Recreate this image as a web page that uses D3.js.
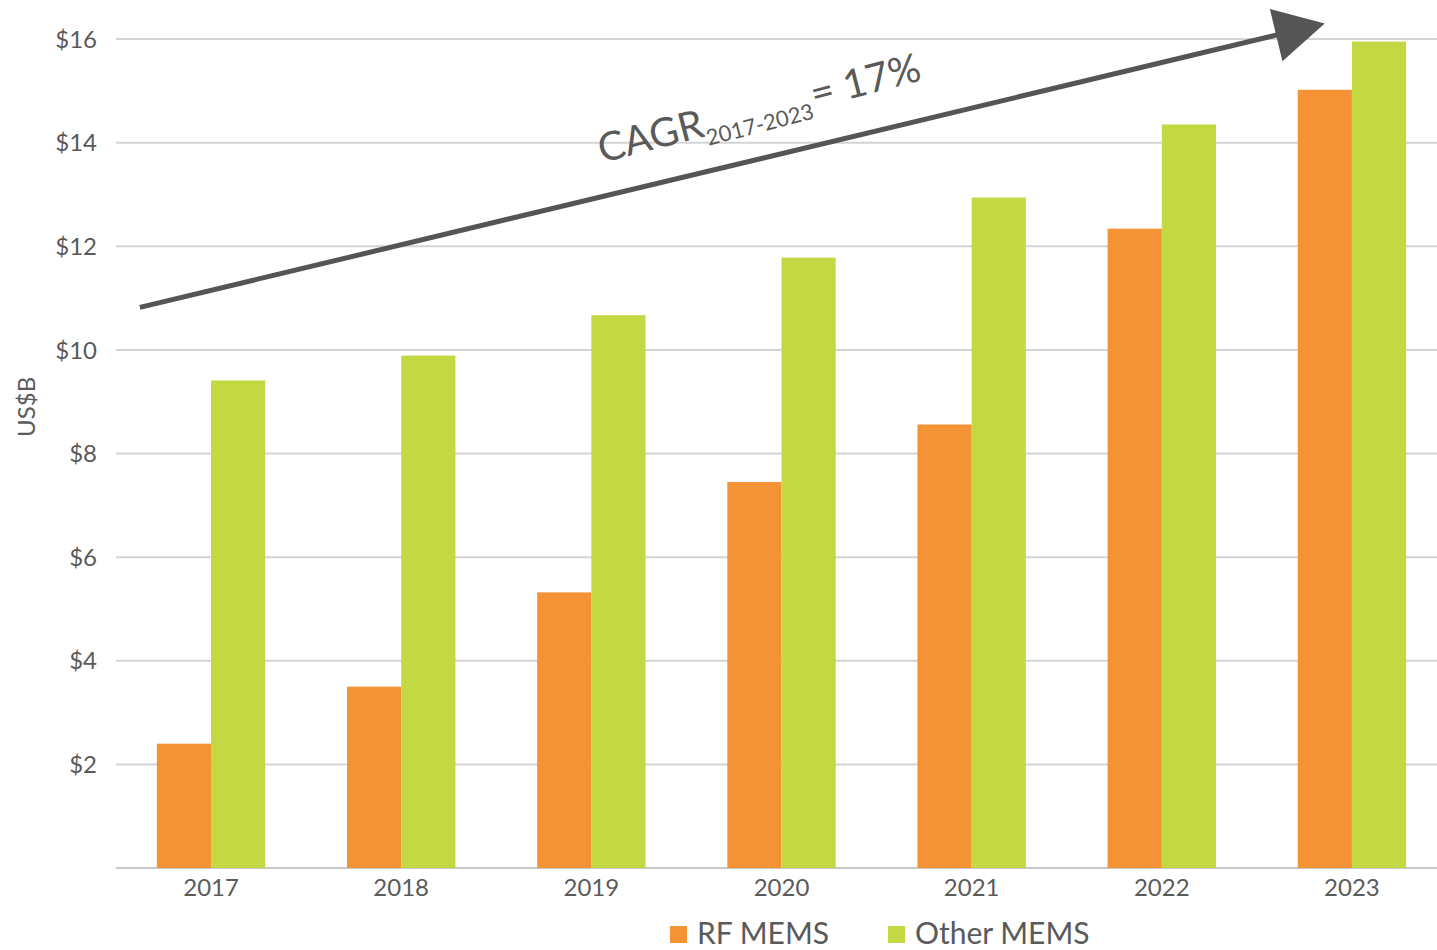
<!DOCTYPE html>
<html>
<head>
<meta charset="utf-8">
<script src="https://cdn.jsdelivr.net/npm/d3@7"></script>
<style>
  html, body { margin: 0; padding: 0; background: #fff; }
  svg { display: block; font-family: "Lato", "Open Sans", sans-serif; }
</style>
</head>
<body>
<svg id="chart" width="1437" height="950"></svg>
<script>
const years = ["2017", "2018", "2019", "2020", "2021", "2022", "2023"];
const rfMems = [2.4, 3.5, 5.32, 7.45, 8.56, 12.34, 15.02];
const otherMems = [9.41, 9.89, 10.67, 11.78, 12.94, 14.35, 15.95];
const seriesNames = ["RF MEMS", "Other MEMS"];
const seriesColors = ["#F39335", "#C3D843"];
const yTicks = [2, 4, 6, 8, 10, 12, 14, 16];
const yTickLabels = ["$2", "$4", "$6", "$8", "$10", "$12", "$14", "$16"];
const cagrLabel = "CAGR";
const cagrSub = "2017-2023";
const cagrValue = "= 17%";

const svg = d3.select("#chart");
const margin = { left: 116, right: 1447, top: 39, bottom: 868 };

const x0 = d3.scaleBand().domain(years).range([margin.left, margin.right])
  .paddingInner(0.43).paddingOuter(0.215);
const x1 = d3.scaleBand().domain(seriesNames).range([0, x0.bandwidth()]);
const y = d3.scaleLinear().domain([0, 16]).range([margin.bottom, margin.top]);

// gridlines
svg.append("g").selectAll("line").data(yTicks).join("line")
  .attr("x1", margin.left).attr("x2", margin.right)
  .attr("y1", d => y(d)).attr("y2", d => y(d))
  .attr("stroke", "#D4D4D4").attr("stroke-width", 2);

// baseline
svg.append("line")
  .attr("x1", margin.left).attr("x2", margin.right)
  .attr("y1", y(0)).attr("y2", y(0))
  .attr("stroke", "#C8C8C8").attr("stroke-width", 2);

// y tick labels
svg.append("g").selectAll("text").data(yTicks).join("text")
  .attr("x", 97).attr("y", d => y(d))
  .attr("dy", "0.36em")
  .attr("text-anchor", "end")
  .attr("font-size", 24)
  .attr("fill", "#5A5A5A")
  .text((d, i) => yTickLabels[i]);

// y axis title
svg.append("text")
  .attr("transform", `translate(35, ${y(8.9)}) rotate(-90)`)
  .attr("text-anchor", "middle")
  .attr("font-size", 24)
  .attr("fill", "#5A5A5A")
  .text("US$B");

// bars
const data = years.map((yr, i) => ({ year: yr, values: [rfMems[i], otherMems[i]] }));
const groups = svg.append("g").selectAll("g").data(data).join("g")
  .attr("transform", d => `translate(${x0(d.year)},0)`);
groups.selectAll("rect").data(d => d.values.map((v, j) => ({ name: seriesNames[j], v, j })))
  .join("rect")
  .attr("x", d => x1(d.name))
  .attr("width", x1.bandwidth())
  .attr("y", d => y(d.v))
  .attr("height", d => y(0) - y(d.v))
  .attr("fill", d => seriesColors[d.j]);

// x labels
svg.append("g").selectAll("text").data(years).join("text")
  .attr("x", d => x0(d) + x0.bandwidth() / 2)
  .attr("y", 896)
  .attr("text-anchor", "middle")
  .attr("font-size", 24)
  .attr("fill", "#5A5A5A")
  .text(d => d);

// arrow (in data coordinates)
const arrowStart = { x: x0("2017") - 17, v: 10.82 };
const arrowEnd = { x: x0("2023") + 27, v: 16.3 };
const ax1 = arrowStart.x, ay1 = y(arrowStart.v);
const ax2 = arrowEnd.x, ay2 = y(arrowEnd.v);
const ang = Math.atan2(ay2 - ay1, ax2 - ax1);
const headLen = 50, headHalf = 27;
const bx = ax2 - headLen * Math.cos(ang), by = ay2 - headLen * Math.sin(ang);
svg.append("line")
  .attr("x1", ax1).attr("y1", ay1)
  .attr("x2", bx + 4 * Math.cos(ang)).attr("y2", by + 4 * Math.sin(ang))
  .attr("stroke", "#555555").attr("stroke-width", 5);
svg.append("path")
  .attr("d", `M${ax2},${ay2} L${bx - headHalf * Math.sin(ang)},${by + headHalf * Math.cos(ang)} L${bx + headHalf * Math.sin(ang)},${by - headHalf * Math.cos(ang)} Z`)
  .attr("fill", "#555555");

// CAGR label
const t = svg.append("text")
  .attr("transform", `translate(602, 163) rotate(-14.5)`)
  .attr("fill", "#5A5A5A");
t.append("tspan").attr("font-size", 40).text(cagrLabel);
t.append("tspan").attr("font-size", 22).attr("dy", 10).text(cagrSub);
t.append("tspan").attr("font-size", 40).attr("dy", -10).attr("dx", 2).text(cagrValue);

// legend
const legendX = [670, 888];
const lg = svg.append("g").selectAll("g").data(seriesNames).join("g")
  .attr("transform", (d, i) => `translate(${legendX[i]}, 926)`);
lg.append("rect").attr("width", 17).attr("height", 17).attr("fill", (d, i) => seriesColors[i]);
lg.append("text").attr("x", 27).attr("y", 18).attr("font-size", 30).attr("fill", "#5A5A5A").text(d => d);
</script>
</body>
</html>
